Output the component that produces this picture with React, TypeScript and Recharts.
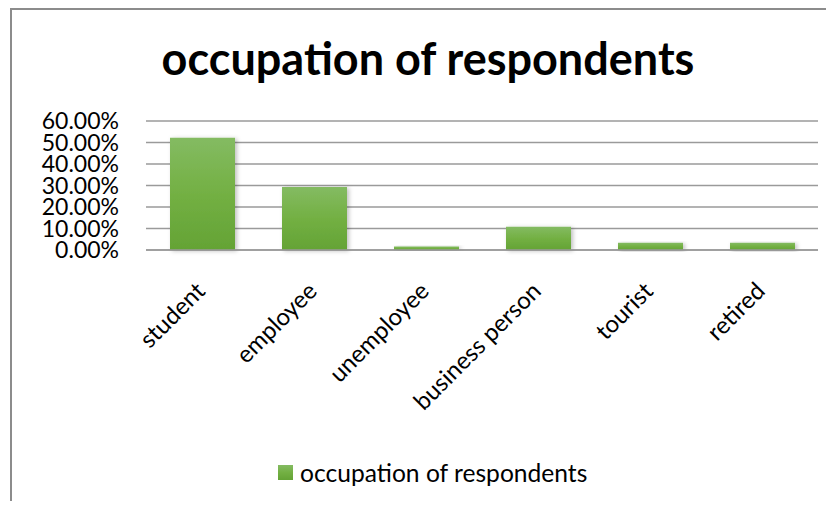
import React from 'react';
import { BarChart, Bar, XAxis, YAxis, CartesianGrid, Legend } from 'recharts';

// occupation shares
const occupations = ['student', 'employee', 'unemployee', 'business person', 'tourist', 'retired'];
const shares = [0.522, 0.293, 0.016, 0.108, 0.034, 0.034];
const yTicks = [0, 0.1, 0.2, 0.3, 0.4, 0.5, 0.6];
const seriesName = 'occupation of respondents';

const data = occupations.map((name, i) => ({ name, value: shares[i] }));

const FONT = 'Lato, "Open Sans", sans-serif';

const AngledTick = (props: any) => {
  const { x, y, payload } = props;
  const ax = x - 8;
  const ay = y + 22;
  return (
    <text
      x={ax}
      y={ay}
      dy="0.74em"
      textAnchor="end"
      transform={`rotate(-45, ${ax}, ${ay})`}
      fontSize={24}
      fontFamily={FONT}
      fill="#000"
    >
      {payload.value}
    </text>
  );
};

const LegendBox = () => (
  <div style={{ height: 34, display: 'flex', alignItems: 'center', paddingLeft: 278 }}>
    <svg width={15} height={15} style={{ marginRight: 7 }}>
      <rect width={15} height={15} fill="url(#barFill)" />
    </svg>
    <span style={{ fontFamily: FONT, fontSize: 24.6, color: '#000' }}>{seriesName}</span>
  </div>
);

export default function App() {
  return (
    <div style={{ position: 'relative', width: 834, height: 509, margin: -8, overflow: 'hidden', background: '#fff' }}>
      <div
        style={{
          position: 'absolute',
          left: 10,
          top: 8,
          width: 900,
          height: 600,
          borderTop: '2px solid #8c8c8c',
          borderLeft: '2px solid #8c8c8c',
        }}
      />
      <div
        style={{
          position: 'absolute',
          top: 30,
          left: 0,
          width: 856,
          textAlign: 'center',
          fontFamily: FONT,
          fontWeight: 700,
          fontSize: 45,
          lineHeight: '56px',
          color: '#000',
        }}
      >
        occupation of respondents
      </div>
      <BarChart
        width={834}
        height={509}
        data={data}
        margin={{ top: 121, right: 16, left: 0, bottom: 20 }}
        style={{ position: 'absolute', left: 0, top: 0 }}
      >
        <defs>
          <linearGradient id="barFill" x1="0" y1="0" x2="0" y2="1">
            <stop offset="0%" stopColor="#84bb62" />
            <stop offset="50%" stopColor="#73b043" />
            <stop offset="100%" stopColor="#64a335" />
          </linearGradient>
          <filter id="barShadow" x="-20%" y="-20%" width="140%" height="140%">
            <feDropShadow dx="2" dy="1" stdDeviation="2" floodColor="#000" floodOpacity="0.25" />
          </filter>
        </defs>
        <CartesianGrid vertical={false} stroke="#9a9a9a" strokeWidth={1.4} />
        <XAxis
          dataKey="name"
          interval={0}
          height={205}
          tickLine={false}
          axisLine={{ stroke: '#9a9a9a', strokeWidth: 1.4 }}
          tick={<AngledTick />}
        />
        <YAxis
          width={146}
          domain={[0, 0.6]}
          ticks={yTicks}
          interval={0}
          tickFormatter={(v: number) => `${(v * 100).toFixed(2)}%`}
          axisLine={false}
          tickLine={false}
          tickSize={0}
          tickMargin={27}
          tick={{ fontSize: 23, fontFamily: FONT, fill: '#000' }}
        />
        <Legend verticalAlign="bottom" wrapperStyle={{ left: 0, width: 834 }} content={<LegendBox />} />
        <Bar
          dataKey="value"
          name={seriesName}
          barSize={65}
          fill="url(#barFill)"
          filter="url(#barShadow)"
          isAnimationActive={false}
        />
      </BarChart>
    </div>
  );
}
